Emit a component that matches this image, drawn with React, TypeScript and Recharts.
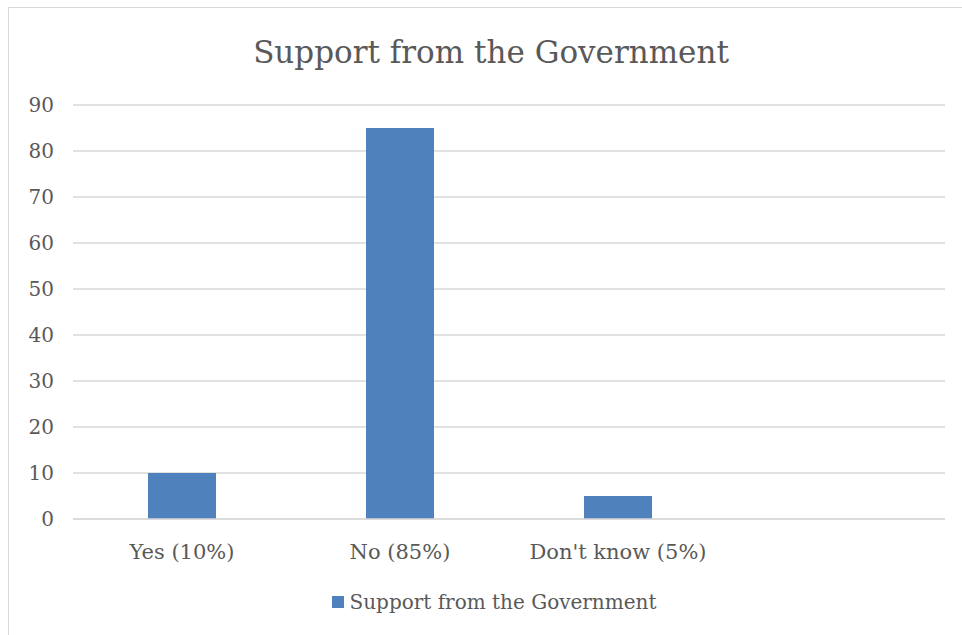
import React from "react";
import { BarChart, Bar, XAxis, YAxis, CartesianGrid, Legend } from "recharts";

const categories = ["Yes (10%)", "No (85%)", "Don't know (5%)", ""];
const values = [10, 85, 5, null];
const yTicks = [0, 10, 20, 30, 40, 50, 60, 70, 80, 90];
const seriesName = "Support from the Government";
const title = "Support from the Government";

const data = categories.map((c, i) => ({ name: c, value: values[i] }));

const FONT = "'DejaVu Serif', serif";
const TEXT = "#595959";
const BLUE = "#4F81BD";

const LegendContent = () => (
  <div style={{ display: "flex", alignItems: "center", justifyContent: "center", fontFamily: FONT, fontSize: 20, color: TEXT }}>
    <span style={{ display: "inline-block", width: 12, height: 12, background: BLUE, marginRight: 6 }} />
    <span>{seriesName}</span>
  </div>
);

export default function App() {
  return (
    <div style={{ position: "absolute", left: 0, top: 0, width: 962, height: 635, overflow: "hidden", background: "#fff" }}>
      <div style={{ position: "absolute", left: 8, top: 7, width: 1000, height: 700, border: "1px solid #d9d9d9", boxSizing: "border-box" }} />
      <div style={{ position: "absolute", left: 0, top: 34, width: 982, textAlign: "center", fontFamily: FONT, fontSize: 31, color: TEXT }}>{title}</div>
      <div style={{ position: "absolute", left: 0, top: 0 }}>
        <BarChart width={962} height={635} data={data} margin={{ top: 105, right: 17, bottom: 42, left: 8 }} barCategoryGap={75}>
          <CartesianGrid vertical={false} stroke="#d9d9d9" strokeWidth={1.5} />
          <XAxis dataKey="name" axisLine={{ stroke: "#d9d9d9", strokeWidth: 1.5 }} tickLine={false} tick={{ fill: TEXT, fontFamily: FONT, fontSize: 21 }} tickMargin={19} interval={0} height={50} />
          <YAxis domain={[0, 90]} ticks={yTicks} axisLine={false} tickLine={false} width={65} tick={{ fill: TEXT, fontFamily: FONT, fontSize: 20, textAnchor: "end" }} tickMargin={0} dx={-13} />
          <Legend content={<LegendContent />} wrapperStyle={{ position: "absolute", top: 590, left: -6, width: 1000 }} />
          <Bar dataKey="value" name={seriesName} fill={BLUE} isAnimationActive={false} />
        </BarChart>
      </div>
    </div>
  );
}
